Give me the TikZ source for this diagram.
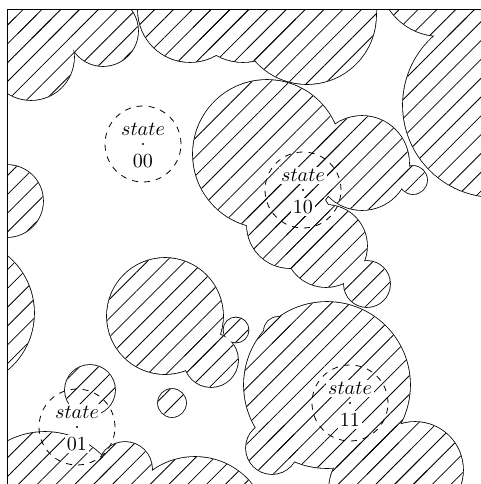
\documentclass[tikz,border=0pt]{standalone}
\usetikzlibrary{patterns.meta}
\begin{document}
\begin{tikzpicture}[x=0.5pt,y=-0.5pt,
  hatch/.style={pattern={Lines[angle=45,distance=6.65pt,line width=0.4pt]}},
  statecirc/.style={circle,draw,dashed,minimum size=38pt,inner sep=0pt},
  statetxt/.style={fill=white,inner sep=1.2pt,anchor=base},
  centerdot/.style={circle,fill=black,minimum size=1.1pt,inner sep=0pt},
  framestyle/.style={line width=0.5pt}]
\useasboundingbox (0,0) rectangle (481,484);
\def\obs{31/57/43, 103/31/35, 50/-45/85,
  7/201/36, -40/313/74,
  190/10/52, 243/8/54, 307/15/69,
  440/-25/61, 495/105/92,
  267/154/74, 362/163/47, 413/180/14, 290/225/43, 326/246/41, 367/284/23,
  165/316/58, 236/330/12.5, 211/360/27, 172/403/14, 90/390/25,
  45/512/80, 125/469/27, 195/530/73,
  327/385/83, 278/331/14, 272/448/26, 380/490/51, 415/470/48}
\begin{scope}
  \clip (8,9) rectangle (520,520);
  \foreach \cx/\cy/\r in \obs {\draw[line width=0.8pt] (\cx,\cy) circle (\r);}
  \foreach \cx/\cy/\r in \obs {\fill[white] (\cx,\cy) circle (\r);}
  \foreach \cx/\cy/\r in \obs {\fill[hatch] (\cx,\cy) circle (\r);}
\end{scope}
\draw[framestyle] (8,520) -- (8,9) -- (520,9);
% states
\node[statecirc] (s00) at (143,144) {};
\node[centerdot] (s00c) at (143,144) {};
\node[statetxt] (s00a) at (143,135.5) {$state$};
\node[statetxt] (s00b) at (143,167.5) {00};
\node[statecirc] (s10) at (303,190) {};
\node[centerdot] (s10c) at (303,190) {};
\node[statetxt] (s10a) at (303,181.5) {$state$};
\node[statetxt] (s10b) at (303,213.5) {10};
\node[statecirc] (s01) at (77,427) {};
\node[centerdot] (s01c) at (77,427) {};
\node[statetxt] (s01a) at (77,418.5) {$state$};
\node[statetxt] (s01b) at (77,450.5) {01};
\node[statecirc] (s11) at (350,403) {};
\node[centerdot] (s11c) at (350,403) {};
\node[statetxt] (s11a) at (350,394.5) {$state$};
\node[statetxt] (s11b) at (350,426.5) {11};
\end{tikzpicture}
\end{document}
